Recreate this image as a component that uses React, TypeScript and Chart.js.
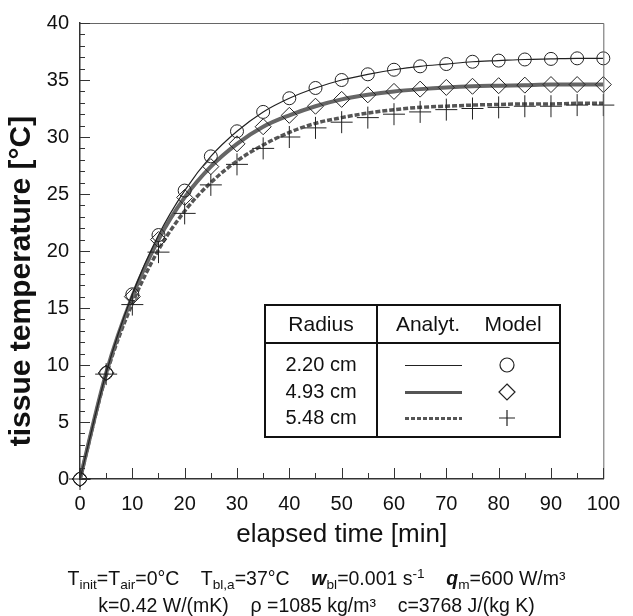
import React, { useEffect, useRef } from 'react';
import { Chart, registerables } from 'chart.js';
Chart.register(...registerables);

const time = [0, 5, 10, 15, 20, 25, 30, 35, 40, 45, 50, 55, 60, 65, 70, 75, 80, 85, 90, 95, 100];
const analyt220 = [0, 9.3, 16.2, 21.4, 25.3, 28.3, 30.5, 32.2, 33.4, 34.3, 35.0, 35.5, 35.9, 36.2, 36.4, 36.6, 36.7, 36.8, 36.85, 36.9, 36.9];
const model220 = [0, 9.3, 16.2, 21.4, 25.3, 28.3, 30.5, 32.2, 33.4, 34.3, 35.0, 35.5, 35.9, 36.2, 36.4, 36.6, 36.7, 36.8, 36.85, 36.9, 36.9];
const analyt493 = [0, 9.3, 16.0, 21.0, 24.7, 27.4, 29.4, 30.9, 31.9, 32.7, 33.3, 33.7, 34.0, 34.2, 34.35, 34.45, 34.5, 34.55, 34.6, 34.6, 34.6];
const model493 = [0, 9.3, 16.0, 21.0, 24.7, 27.4, 29.4, 30.9, 31.9, 32.7, 33.3, 33.7, 34.0, 34.2, 34.35, 34.45, 34.5, 34.55, 34.6, 34.6, 34.6];
const analyt548 = [0, 9.1, 15.4, 20.1, 23.5, 26.0, 27.9, 29.3, 30.4, 31.2, 31.7, 32.1, 32.4, 32.6, 32.7, 32.8, 32.85, 32.9, 32.9, 32.95, 32.95];
const model548 = [0, 9.2, 15.3, 19.9, 23.3, 25.8, 27.6, 29.0, 30.0, 30.8, 31.3, 31.7, 32.0, 32.2, 32.4, 32.5, 32.6, 32.7, 32.7, 32.8, 32.8];
const xTickValues = [0, 10, 20, 30, 40, 50, 60, 70, 80, 90, 100];
const yTickValues = [0, 5, 10, 15, 20, 25, 30, 35, 40];
const legendRadii = ['2.20 cm', '4.93 cm', '5.48 cm'];

const FONT = '"Liberation Sans", Arial, Helvetica, sans-serif';
const TEXT = '#111';

const pts = (ys: number[]) => time.map((t, i) => ({ x: t, y: ys[i] }));

function drawMarker(ctx: CanvasRenderingContext2D, kind: string, x: number, y: number, r: number) {
  ctx.beginPath();
  if (kind === 'circle') {
    ctx.arc(x, y, r, 0, Math.PI * 2);
  } else if (kind === 'diamond') {
    ctx.moveTo(x, y - r); ctx.lineTo(x + r, y); ctx.lineTo(x, y + r); ctx.lineTo(x - r, y); ctx.closePath();
  } else {
    ctx.moveTo(x - r, y); ctx.lineTo(x + r, y); ctx.moveTo(x, y - r); ctx.lineTo(x, y + r);
  }
  ctx.stroke();
}

const decor = {
  id: 'decor',
  afterDraw(chart: any) {
    const { ctx, chartArea: a, scales } = chart;
    const xs = scales.x, ys = scales.y;
    ctx.save();
    // frame top/right
    ctx.strokeStyle = '#666';
    ctx.lineWidth = 1;
    ctx.beginPath();
    ctx.moveTo(a.left, a.top + 0.5);
    ctx.lineTo(a.right + 0.5, a.top + 0.5);
    ctx.lineTo(a.right + 0.5, a.bottom);
    ctx.stroke();
    // inward ticks
    ctx.strokeStyle = '#333';
    ctx.lineWidth = 1;
    ctx.beginPath();
    for (let v = 0; v <= 100; v += 5) {
      const px = Math.round(xs.getPixelForValue(v)) + 0.5;
      const len = v % 10 === 0 ? 11 : 6;
      ctx.moveTo(px, a.bottom);
      ctx.lineTo(px, a.bottom - len);
    }
    for (let v = 0; v <= 40; v += 1) {
      const py = Math.round(ys.getPixelForValue(v)) + 0.5;
      const len = v % 5 === 0 ? 10 : 5;
      ctx.moveTo(a.left, py);
      ctx.lineTo(a.left + len, py);
    }
    ctx.stroke();

    // axis titles
    ctx.fillStyle = TEXT;
    ctx.textAlign = 'center';
    ctx.textBaseline = 'middle';
    ctx.font = `26px ${FONT}`;
    ctx.fillText('elapsed time [min]', (a.left + a.right) / 2, 535);
    ctx.save();
    ctx.translate(22, 281);
    ctx.rotate(-Math.PI / 2);
    ctx.font = `bold 30px ${FONT}`;
    ctx.fillText('tissue temperature [°C]', 0, 0);
    ctx.restore();

    // legend table
    const L = 265, R = 560, T = 305, B = 437, H = 343, V = 377;
    ctx.fillStyle = '#fff';
    ctx.fillRect(L, T, R - L, B - T);
    ctx.strokeStyle = '#111';
    ctx.lineWidth = 2;
    ctx.strokeRect(L, T, R - L, B - T);
    ctx.beginPath();
    ctx.moveTo(L, H); ctx.lineTo(R, H);
    ctx.moveTo(V, T); ctx.lineTo(V, B);
    ctx.stroke();
    ctx.fillStyle = TEXT;
    ctx.font = `21px ${FONT}`;
    ctx.fillText('Radius', (L + V) / 2, 325);
    ctx.fillText('Analyt.', 428, 325);
    ctx.fillText('Model', 513, 325);
    ctx.font = `20px ${FONT}`;
    const rows = [365, 392, 418];
    const kinds = ['circle', 'diamond', 'plus'];
    legendRadii.forEach((lab, i) => {
      const ry = rows[i];
      ctx.fillStyle = TEXT;
      ctx.fillText(lab, (L + V) / 2, ry);
      ctx.save();
      ctx.beginPath();
      if (i === 0) { ctx.strokeStyle = '#222'; ctx.lineWidth = 1.2; ctx.setLineDash([]); }
      if (i === 1) { ctx.strokeStyle = '#555'; ctx.lineWidth = 3; ctx.setLineDash([]); }
      if (i === 2) { ctx.strokeStyle = '#555'; ctx.lineWidth = 3; ctx.setLineDash([4, 2]); }
      ctx.moveTo(405, ry + 0.5);
      ctx.lineTo(462, ry + 0.5);
      ctx.stroke();
      ctx.restore();
      ctx.strokeStyle = '#222';
      ctx.lineWidth = 1.2;
      drawMarker(ctx, kinds[i], 507, ry, i === 0 ? 7 : 8);
    });
    ctx.restore();
  },
};

export default function App() {
  const ref = useRef<HTMLCanvasElement | null>(null);
  useEffect(() => {
    document.body.style.margin = '0';
    const canvas = ref.current;
    if (!canvas) return;
    Chart.defaults.font.family = FONT;
    const chart = new Chart(canvas, {
      type: 'scatter',
      data: {
        datasets: [
          {
            label: 'model 2.20', data: pts(model220), showLine: false, pointStyle: 'circle',
            pointRadius: 6.5, pointBorderWidth: 1, pointBorderColor: '#222', pointBackgroundColor: 'rgba(0,0,0,0)', clip: false,
          } as any,
          {
            label: 'model 4.93', data: pts(model493), showLine: false, pointStyle: 'rectRot',
            pointRadius: 8, pointBorderWidth: 1, pointBorderColor: '#222', pointBackgroundColor: 'rgba(0,0,0,0)', clip: false,
          },
          {
            label: 'model 5.48', data: pts(model548), showLine: false, pointStyle: 'cross',
            pointRadius: 11, pointBorderWidth: 1, pointBorderColor: '#222', pointBackgroundColor: 'rgba(0,0,0,0)', clip: false,
          },
          {
            label: 'analyt 2.20', data: pts(analyt220), showLine: true, pointRadius: 0,
            borderColor: '#222', borderWidth: 1.2, cubicInterpolationMode: 'monotone',
          },
          {
            label: 'analyt 4.93', data: pts(analyt493), showLine: true, pointRadius: 0,
            borderColor: '#666', borderWidth: 4, cubicInterpolationMode: 'monotone',
          },
          {
            label: 'analyt 5.48', data: pts(analyt548), showLine: true, pointRadius: 0,
            borderColor: '#555', borderWidth: 3.5, borderDash: [5, 2], cubicInterpolationMode: 'monotone',
          },
        ],
      },
      options: {
        responsive: false,
        animation: false,
        devicePixelRatio: 1,
        layout: { padding: { left: 0, top: 19, right: 19, bottom: 92 } },
        plugins: { legend: { display: false }, tooltip: { enabled: false }, title: { display: false } },
        scales: {
          x: {
            type: 'linear', min: 0, max: 100,
            grid: { display: false, drawTicks: false },
            border: { display: true, color: '#333', width: 1.5 },
            afterBuildTicks: (s: any) => { s.ticks = xTickValues.map((v) => ({ value: v })); },
            afterFit: (s: any) => { s.height = 45; },
            ticks: { font: { size: 20, family: FONT }, color: TEXT, padding: 13, maxRotation: 0, autoSkip: false },
          },
          y: {
            type: 'linear', min: 0, max: 40,
            grid: { display: false, drawTicks: false },
            border: { display: true, color: '#333', width: 1.5 },
            afterBuildTicks: (s: any) => { s.ticks = yTickValues.map((v) => ({ value: v })); },
            afterFit: (s: any) => { s.width = 80; },
            ticks: { font: { size: 20, family: FONT }, color: TEXT, padding: 11, autoSkip: false },
          },
        },
      },
      plugins: [decor],
    });
    return () => chart.destroy();
  }, []);

  const sub = { fontSize: '0.7em', verticalAlign: '-0.3em', lineHeight: 0 } as React.CSSProperties;
  const sup = { fontSize: '0.7em', verticalAlign: '0.5em', lineHeight: 0 } as React.CSSProperties;
  return (
    <div style={{ position: 'absolute', left: 0, top: 0, width: 633, height: 616, background: '#fff' }}>
      <canvas ref={ref} width={633} height={616} style={{ display: 'block' }} />
      <div
        style={{
          position: 'absolute', left: 0, top: 565, width: 633, textAlign: 'center',
          fontFamily: FONT, fontSize: 19.5, lineHeight: '27px', color: TEXT, whiteSpace: 'pre',
        }}
      >
        <div>
          T<span style={sub}>init</span>=T<span style={sub}>air</span>=0°C{'    '}T<span style={sub}>bl,a</span>=37°C{'    '}
          <b><i>w</i></b><span style={sub}>bl</span>=0.001 s<span style={sup}>-1</span>{'    '}
          <b><i>q</i></b><span style={sub}>m</span>=600 W/m³
        </div>
        <div>k=0.42 W/(mK){'    '}ρ =1085 kg/m³{'    '}c=3768 J/(kg K)</div>
      </div>
    </div>
  );
}
